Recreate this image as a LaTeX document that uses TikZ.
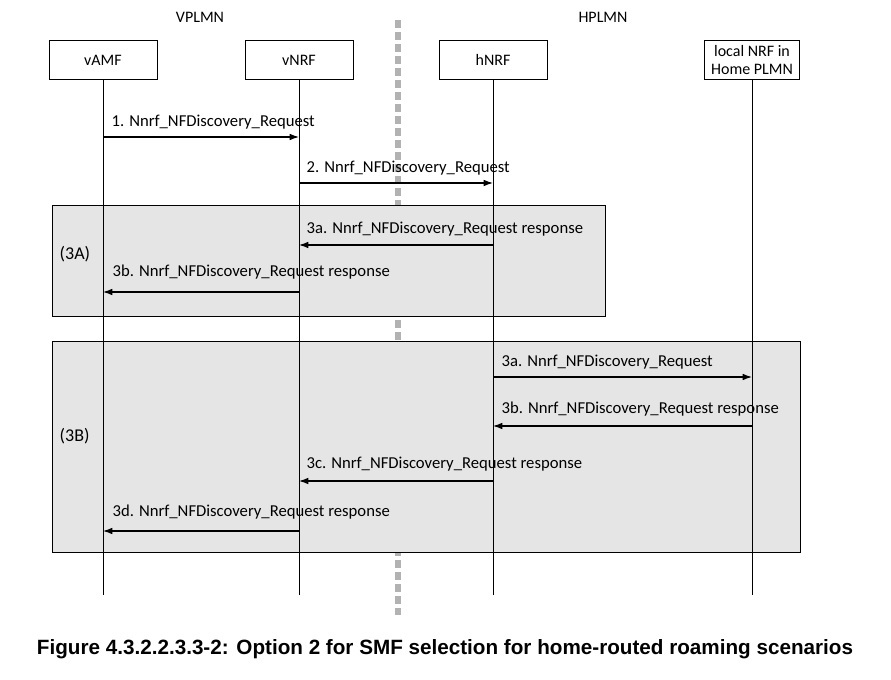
\documentclass[tikz,border=0pt]{standalone}
\usepackage{fontspec}
\setmainfont{Carlito}
\newfontfamily\capfont{Liberation Sans}
\usetikzlibrary{arrows.meta}
\begin{document}
\begin{tikzpicture}[x=0.75pt,y=-0.75pt,
  ent/.style={draw,fill=white,minimum width=81pt,minimum height=29pt,inner sep=1pt,font=\fontsize{12}{13}\selectfont,align=center},
  life/.style={draw,line width=0.6pt},
  msg/.style={draw,line width=0.9pt,-{Latex[length=7pt,width=5pt]}},
  lbl/.style={anchor=south west,font=\fontsize{12.5}{14}\selectfont,inner sep=1pt},
  grp/.style={draw,line width=0.6pt,fill=black!10}]
\useasboundingbox (0,0) rectangle (891,680);
\draw[gray!60,line width=4pt,dash pattern=on 6pt off 3pt] (398,20) -- (398,615);
\node at (200,17) {\fontsize{12}{13}\selectfont VPLMN};
\node at (603,17) {\fontsize{12}{13}\selectfont HPLMN};
\node[grp,minimum width=414.75pt,minimum height=83.25pt,anchor=north west] (g3a) at (52,205) {};
\node[grp,minimum width=561pt,minimum height=158.25pt,anchor=north west] (g3b) at (52,341) {};
\node[anchor=west] at (55,254) {\fontsize{13.5}{15}\selectfont (3A)};
\node[anchor=west] at (55,436) {\fontsize{13.5}{15}\selectfont (3B)};
\node[ent] (vamf) at (103,60) {vAMF};
\node[ent] (vnrf) at (299,60) {vNRF};
\node[ent] (hnrf) at (493,60) {hNRF};
\node[ent,minimum width=71pt] (lnrf) at (752,60) {local NRF in\\Home PLMN};
\foreach \n in {vamf,vnrf,hnrf,lnrf}{\coordinate (\n e) at (\n.south |- 0,595); \draw[life] (\n.south) -- (\n e);}
\foreach \y/\a/\b [count=\i] in {137/vamf/vnrf,183/vnrf/hnrf,245/hnrf/vnrf,292/vnrf/vamf,
 377/hnrf/lnrf,426/lnrf/hnrf,481/hnrf/vnrf,531/vnrf/vamf}{
  \coordinate (s\i) at (\a.south |- 0,\y);
  \coordinate (t\i) at (\b.south |- 0,\y);
  \draw[msg] (s\i) -- (t\i);
}
\node[lbl] at (110,131) {1. Nnrf\_NFDiscovery\_Request};
\node[lbl] at (305,177) {2. Nnrf\_NFDiscovery\_Request};
\node[lbl] at (305,238) {3a. Nnrf\_NFDiscovery\_Request response};
\node[lbl] at (111,281) {3b. Nnrf\_NFDiscovery\_Request response};
\node[lbl] at (500,371) {3a. Nnrf\_NFDiscovery\_Request};
\node[lbl] at (500,418) {3b. Nnrf\_NFDiscovery\_Request response};
\node[lbl] at (305,473) {3c. Nnrf\_NFDiscovery\_Request response};
\node[lbl] at (111,521) {3d. Nnrf\_NFDiscovery\_Request response};
\node at (445,649) {\capfont\bfseries\fontsize{15.5}{17}\selectfont Figure 4.3.2.2.3.3-2: Option 2 for SMF selection for home-routed roaming scenarios};
\end{tikzpicture}
\end{document}
